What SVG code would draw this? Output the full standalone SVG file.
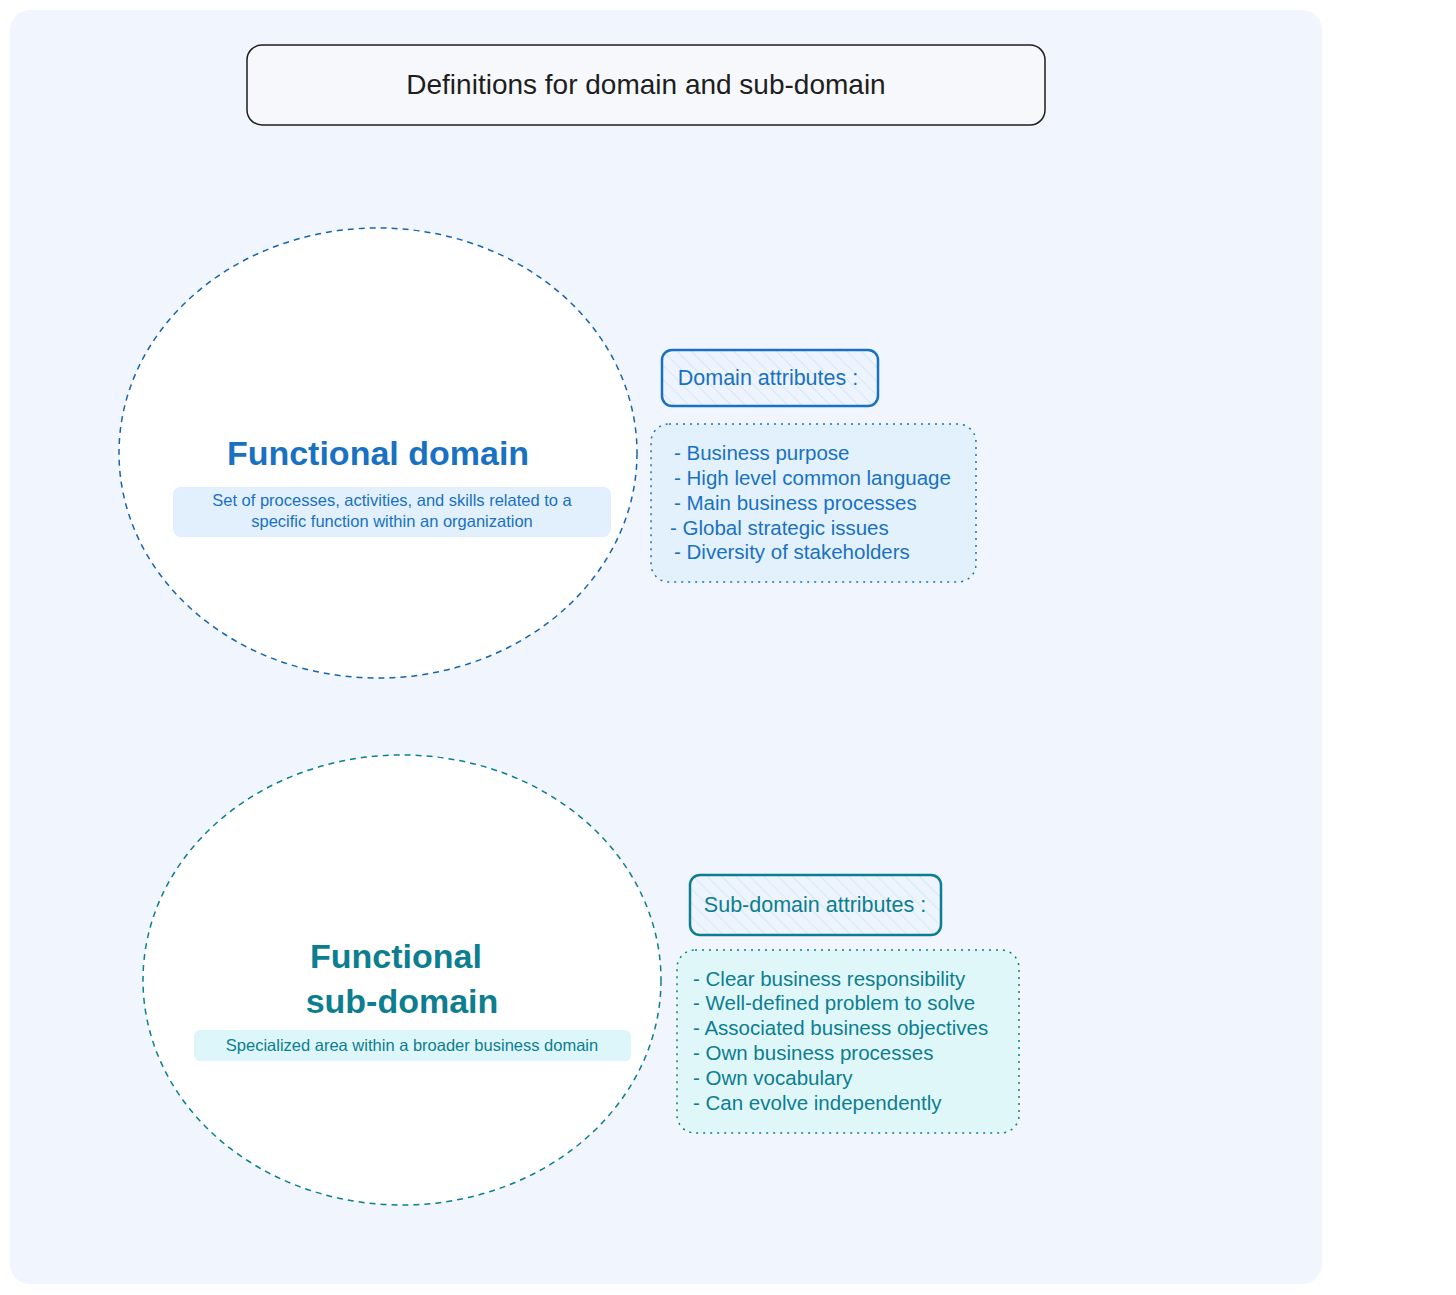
<svg xmlns="http://www.w3.org/2000/svg" width="1456" height="1295" viewBox="0 0 1456 1295">
<defs>
<style>
text{font-family:"Liberation Sans","Open Sans",sans-serif;}
.title{font-size:28px;fill:#1e1e1e;text-anchor:middle;}
.blue{fill:#1971c2;}
.teal{fill:#0c7e8f;}
.big{font-size:34px;font-weight:bold;text-anchor:middle;}
.small{font-size:16.5px;text-anchor:middle;}
.lbl{font-size:21.5px;text-anchor:middle;}
.list{font-size:20.5px;}
</style>
<pattern id="hatchB" width="10" height="10" patternUnits="userSpaceOnUse" patternTransform="rotate(-45)">
<rect width="10" height="10" fill="#eef4fd"/>
<line x1="0" y1="0" x2="0" y2="10" stroke="#d6e6f7" stroke-width="2"/>
</pattern>
<pattern id="hatchT" width="10" height="10" patternUnits="userSpaceOnUse" patternTransform="rotate(-45)">
<rect width="10" height="10" fill="#eef4fd"/>
<line x1="0" y1="0" x2="0" y2="10" stroke="#d3ecef" stroke-width="2"/>
</pattern>
</defs>
<rect x="0" y="0" width="1456" height="1295" fill="#ffffff"/>
<rect x="10" y="10" width="1312" height="1274" rx="20" fill="#f0f5fe"/>

<g id="title">
<rect x="247" y="45" width="798" height="80" rx="15" fill="#f6f8fb" stroke="#1e1e1e" stroke-width="1.5"/>
<text class="title" x="646" y="94">Definitions for domain and sub-domain</text>
</g>

<g id="functional-domain">
<ellipse cx="378" cy="453" rx="259" ry="225" fill="#ffffff" stroke="#1864ab" stroke-width="1.5" stroke-dasharray="6 5"/>
<text class="big blue" x="378" y="465">Functional domain</text>
<rect x="173" y="487" width="438" height="50" rx="8" fill="#e2f0fd"/>
<text class="small blue" x="392" y="506">Set of processes, activities, and skills related to a</text>
<text class="small blue" x="392" y="527">specific function within an organization</text>
</g>

<g id="domain-attributes">
<rect x="662" y="350" width="216" height="56" rx="10" fill="url(#hatchB)" stroke="#1971c2" stroke-width="2.5"/>
<text class="lbl blue" x="768" y="385">Domain attributes :</text>
</g>

<g id="domain-list">
<rect x="651" y="424" width="325" height="158" rx="18" fill="#e3f1fc" stroke="#1971c2" stroke-width="1.5" stroke-dasharray="2 5"/>
<text class="list blue" x="674" y="460">- Business purpose</text>
<text class="list blue" x="674" y="485">- High level common language</text>
<text class="list blue" x="674" y="510">- Main business processes</text>
<text class="list blue" x="670" y="535">- Global strategic issues</text>
<text class="list blue" x="674" y="559">- Diversity of stakeholders</text>
</g>

<g id="functional-subdomain">
<ellipse cx="402" cy="980" rx="259" ry="225" fill="#ffffff" stroke="#0c7e8f" stroke-width="1.5" stroke-dasharray="6 5"/>
<text class="big teal" x="396" y="968">Functional</text>
<text class="big teal" x="402" y="1013">sub-domain</text>
<rect x="194" y="1030" width="437" height="31" rx="6" fill="#ddf6fa"/>
<text class="small teal" x="412" y="1051">Specialized area within a broader business domain</text>
</g>

<g id="subdomain-attributes">
<rect x="690" y="875" width="251" height="60" rx="10" fill="url(#hatchT)" stroke="#0c7e8f" stroke-width="2.5"/>
<text class="lbl teal" x="815" y="912">Sub-domain attributes :</text>
</g>

<g id="subdomain-list">
<rect x="677" y="950" width="342" height="183" rx="18" fill="#e0f7fa" stroke="#0c7e8f" stroke-width="1.5" stroke-dasharray="2 5"/>
<text class="list teal" x="693" y="986">- Clear business responsibility</text>
<text class="list teal" x="693" y="1010">- Well-defined problem to solve</text>
<text class="list teal" x="693" y="1035">- Associated business objectives</text>
<text class="list teal" x="693" y="1060">- Own business processes</text>
<text class="list teal" x="693" y="1085">- Own vocabulary</text>
<text class="list teal" x="693" y="1110">- Can evolve independently</text>
</g>

<g id="connectors"></g>
</svg>
